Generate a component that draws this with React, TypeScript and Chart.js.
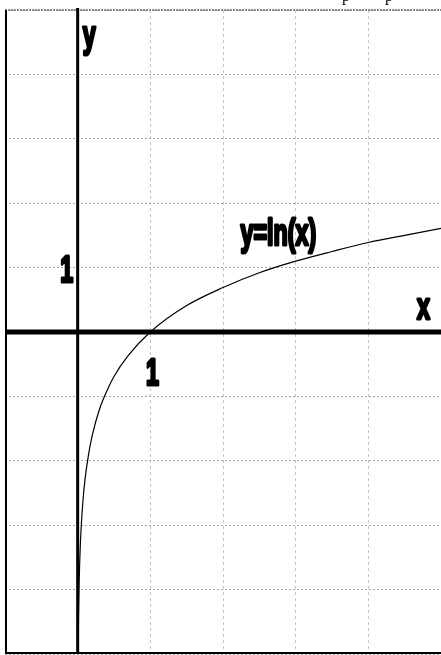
import React, { useEffect, useRef } from "react";
import { Chart, registerables } from "chart.js";

Chart.register(...registerables);

const curveX = [0.007, 0.012, 0.02, 0.035, 0.05, 0.075, 0.1, 0.15, 0.2, 0.3, 0.4, 0.5, 0.7, 1, 1.5, 2, 2.5, 3, 3.5, 4, 4.5, 5];
const curveY = [-4.96, -4.42, -3.91, -3.35, -3.0, -2.59, -2.3, -1.9, -1.61, -1.2, -0.92, -0.69, -0.36, 0, 0.41, 0.69, 0.92, 1.1, 1.25, 1.39, 1.5, 1.61];

const xRange = [-1, 5];
const yRange = [-5, 5];

const labelTexts = ["y", "1", "1", "x", "y=ln(x)"];
const labelX = [0.07, -0.24, 0.94, 4.67, 2.24];
const labelY = [4.42, 0.77, -0.83, 0.2, 1.35];

const decorPlugin = {
  id: "decor",
  beforeDatasetsDraw(chart: any) {
    const { ctx, chartArea, scales } = chart;
    const { left, right, top, bottom } = chartArea;
    const x0 = scales.x.getPixelForValue(0);
    const y0 = scales.y.getPixelForValue(0);
    ctx.save();
    // top border (dotted)
    ctx.strokeStyle = "#8a8a8a";
    ctx.lineWidth = 2;
    ctx.setLineDash([2, 1]);
    ctx.beginPath();
    ctx.moveTo(left, top);
    ctx.lineTo(right, top);
    ctx.stroke();
    ctx.setLineDash([]);
    // left border
    ctx.strokeStyle = "#000";
    ctx.lineWidth = 2;
    ctx.beginPath();
    ctx.moveTo(left + 1, top);
    ctx.lineTo(left + 1, bottom);
    ctx.stroke();
    // bottom border
    ctx.beginPath();
    ctx.moveTo(left, bottom - 1);
    ctx.lineTo(right, bottom - 1);
    ctx.stroke();
    // y axis
    ctx.lineWidth = 3;
    ctx.beginPath();
    ctx.moveTo(x0, top - 2);
    ctx.lineTo(x0, bottom);
    ctx.stroke();
    // x axis
    ctx.lineWidth = 5;
    ctx.beginPath();
    ctx.moveTo(left, y0);
    ctx.lineTo(right, y0);
    ctx.stroke();
    ctx.restore();
  },
  afterDatasetsDraw(chart: any) {
    const { ctx, scales } = chart;
    ctx.save();
    ctx.fillStyle = "#000";
    ctx.strokeStyle = "#000";
    ctx.lineJoin = "round";
    ctx.font = 'bold 37px "Liberation Sans", Arial, "DejaVu Sans", sans-serif';
    ctx.textBaseline = "alphabetic";
    ctx.textAlign = "left";
    labelTexts.forEach((t, i) => {
      const px = scales.x.getPixelForValue(labelX[i]);
      const py = scales.y.getPixelForValue(labelY[i]);
      ctx.save();
      ctx.translate(px, py);
      ctx.scale(0.63, 1);
      ctx.lineWidth = 3.2;
      ctx.fillText(t, 0, 0);
      ctx.strokeText(t, 0, 0);
      ctx.restore();
    });
    // cropped page text descenders at the very top
    ctx.font = '16px "Liberation Serif", serif';
    ctx.fillText("p", 342, 0.5);
    ctx.fillText("p", 385, 0.5);
    ctx.restore();
  },
};

export default function App() {
  const ref = useRef<HTMLCanvasElement | null>(null);
  useEffect(() => {
    if (!ref.current) return;
    const data = curveX.map((x, i) => ({ x, y: curveY[i] }));
    const chart = new Chart(ref.current, {
      type: "line",
      data: {
        datasets: [
          {
            data,
            borderColor: "#000",
            borderWidth: 1.2,
            pointRadius: 0,
            fill: false,
            cubicInterpolationMode: "monotone",
          },
        ],
      },
      options: {
        animation: false,
        responsive: false,
        events: [],
        layout: { padding: { left: 5, top: 10, right: 0, bottom: 1 } },
        plugins: { legend: { display: false }, tooltip: { enabled: false }, title: { display: false } },
        scales: {
          x: {
            type: "linear",
            min: xRange[0],
            max: xRange[1],
            ticks: { display: false, stepSize: 1 },
            grid: { color: "#c4c4c4", lineWidth: 1, drawTicks: false },
            border: { display: false, dash: [3, 3] },
          },
          y: {
            type: "linear",
            min: yRange[0],
            max: yRange[1],
            ticks: { display: false, stepSize: 1 },
            grid: { color: "#a6a6a6", lineWidth: 1, drawTicks: false },
            border: { display: false, dash: [2, 2] },
          },
        },
      },
      plugins: [decorPlugin],
    });
    return () => chart.destroy();
  }, []);
  return (
    <div style={{ position: "fixed", left: 0, top: 0, width: 441, height: 655, background: "#fff" }}>
      <canvas ref={ref} width={441} height={655} style={{ display: "block" }} />
    </div>
  );
}
